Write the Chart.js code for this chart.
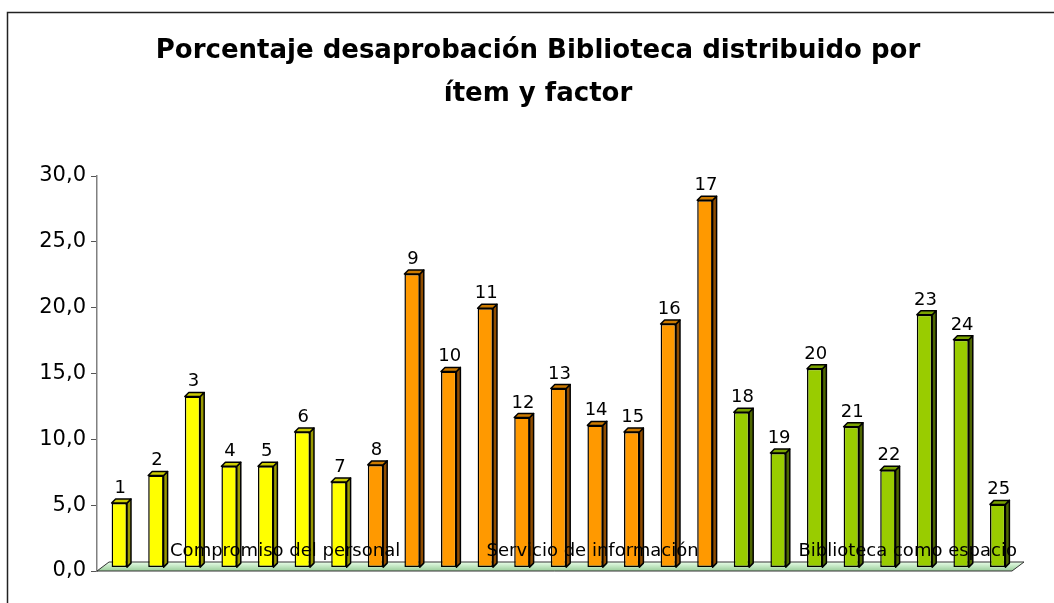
<!DOCTYPE html>
<html>
<head>
<meta charset="utf-8">
<title>Porcentaje desaprobación Biblioteca</title>
<script src="https://cdn.jsdelivr.net/npm/chart.js@4.4.1/dist/chart.umd.min.js"></script>
<style>
    html, body { margin: 0; padding: 0; background: #fff; }
    #wrap { width: 1054px; height: 603px; }
</style>
</head>
<body>
<div id="wrap"><canvas id="chart" width="1054" height="603"></canvas></div>
<script>
// Ítems de la encuesta (1..25) y % de desaprobación de cada uno
const ITEMS = ['1', '2', '3', '4', '5', '6', '7', '8', '9', '10', '11', '12', '13',
    '14', '15', '16', '17', '18', '19', '20', '21', '22', '23', '24', '25'];
const VALUES = [4.9, 7.0, 13.0, 7.7, 7.7, 10.3, 6.5, 7.8, 22.3, 14.9, 19.7, 11.4, 13.6,
    10.8, 10.3, 18.5, 27.9, 11.8, 8.7, 15.1, 10.7, 7.4, 19.2, 17.3, 4.8];
// factor al que pertenece cada ítem (índice en FACTORS)
const FACTOR_OF_ITEM = [0, 0, 0, 0, 0, 0, 0, 1, 1, 1, 1, 1, 1, 1, 1, 1, 1, 2, 2, 2, 2, 2, 2, 2, 2];
const FACTORS = ['Compromiso del personal', 'Servicio de información', 'Biblioteca como espacio'];
// posición (en categorías) donde va centrado el nombre del factor sobre el piso
const FACTOR_LABEL_AT = [4.64, 13.04, 21.65];
const TITLE_LINES = ['Porcentaje desaprobación Biblioteca distribuido por', 'ítem y factor'];
const Y_MIN = 0;
const Y_MAX = 30;
const Y_STEP = 5;

// colores por factor: cara frontal, lateral y superior
const FRONT = ['#FFFF00', '#FF9900', '#99CC00'];
const SIDE = ['#999900', '#8F4C00', '#4D6600'];
const TOP = ['#CCCC00', '#CC7A00', '#7AA300'];

const DEPTH = { dx: 4, dy: -4 };   // profundidad de cada columna
const SHIFT = { dx: 4, dy: -3.4 }; // columnas colocadas a mitad del piso
const FLOOR = { dx: 12, dy: -9 };

// marco del gráfico + título (el título de Excel no queda centrado en el canvas)
const frame = {
    id: 'frame',
    beforeDraw(chart) {
        const { ctx, width, height } = chart;
        ctx.save();
        ctx.fillStyle = '#fff';
        ctx.fillRect(0, 0, width, height);
        ctx.strokeStyle = '#222';
        ctx.lineWidth = 1.5;
        ctx.strokeRect(7.5, 12.5, width + 20, height + 20);
        ctx.restore();
    },
    afterDraw(chart) {
        const { ctx } = chart;
        ctx.save();
        ctx.fillStyle = '#000';
        ctx.font = 'bold 26px "DejaVu Sans"';
        ctx.textAlign = 'center';
        ctx.textBaseline = 'middle';
        TITLE_LINES.forEach((line, i) => ctx.fillText(line, 538, 51 + i * 43));
        ctx.restore();
    },
};

const columns3d = {
    id: 'columns3d',
    beforeDatasetsDraw(chart) {
        const { ctx, chartArea: a } = chart;
        ctx.save();
        const g = ctx.createLinearGradient(0, a.bottom + FLOOR.dy, 0, a.bottom);
        g.addColorStop(0, '#E8FFE8');
        g.addColorStop(1, '#99CC99');
        ctx.beginPath();
        ctx.moveTo(a.left, a.bottom);
        ctx.lineTo(a.right, a.bottom);
        ctx.lineTo(a.right + FLOOR.dx, a.bottom + FLOOR.dy);
        ctx.lineTo(a.left + FLOOR.dx, a.bottom + FLOOR.dy);
        ctx.closePath();
        ctx.fillStyle = g;
        ctx.fill();
        ctx.strokeStyle = '#333';
        ctx.lineWidth = 1;
        ctx.stroke();
        ctx.restore();

        ctx.save();
        ctx.translate(SHIFT.dx, SHIFT.dy);
    },
    afterDatasetsDraw(chart) {
        const { ctx } = chart;
        const meta = chart.getDatasetMeta(0);
        ctx.lineWidth = 1.5;
        ctx.strokeStyle = '#000';
        ctx.lineJoin = 'round';
        meta.data.forEach((bar, i) => {
            const { x, y, base, width } = bar.getProps(['x', 'y', 'base', 'width'], true);
            const l = x - width / 2;
            const r = x + width / 2;
            const f = FACTOR_OF_ITEM[i];

            // cara lateral
            ctx.beginPath();
            ctx.moveTo(r, base);
            ctx.lineTo(r, y);
            ctx.lineTo(r + DEPTH.dx, y + DEPTH.dy);
            ctx.lineTo(r + DEPTH.dx, base + DEPTH.dy);
            ctx.closePath();
            ctx.fillStyle = SIDE[f];
            ctx.fill();
            ctx.stroke();

            // cara superior
            ctx.beginPath();
            ctx.moveTo(l, y);
            ctx.lineTo(r, y);
            ctx.lineTo(r + DEPTH.dx, y + DEPTH.dy);
            ctx.lineTo(l + DEPTH.dx, y + DEPTH.dy);
            ctx.closePath();
            ctx.fillStyle = TOP[f];
            ctx.fill();
            ctx.stroke();

            // número del ítem
            ctx.fillStyle = '#000';
            ctx.font = '18px "DejaVu Sans"';
            ctx.textAlign = 'center';
            ctx.textBaseline = 'alphabetic';
            ctx.fillText(ITEMS[i], x + 1, y - 10);
        });
        ctx.restore();

        // nombres de los factores sobre el piso
        const xs = chart.scales.x;
        const a = chart.chartArea;
        ctx.save();
        ctx.fillStyle = '#000';
        ctx.font = '18px "DejaVu Sans"';
        ctx.textAlign = 'center';
        ctx.textBaseline = 'alphabetic';
        FACTORS.forEach((name, k) => {
            ctx.fillText(name, xs.getPixelForValue(FACTOR_LABEL_AT[k]), a.bottom - 15);
        });
        ctx.restore();
    },
};

new Chart(document.getElementById('chart'), {
    type: 'bar',
    data: {
        labels: ITEMS,
        datasets: [{
            data: VALUES,
            backgroundColor: FACTOR_OF_ITEM.map((f) => FRONT[f]),
            borderColor: '#000',
            borderWidth: 1.5,
            borderSkipped: false,
            categoryPercentage: 1,
            barPercentage: 0.42,
        }],
    },
    options: {
        responsive: false,
        animation: false,
        events: [],
        layout: { padding: { left: 0, right: 42, top: 176, bottom: 32 } },
        plugins: {
            legend: { display: false },
            tooltip: { enabled: false },
            title: { display: false },
        },
        scales: {
            x: {
                display: false,
                offset: true,
            },
            y: {
                min: Y_MIN,
                max: Y_MAX,
                afterFit(scale) { scale.width = 97; },
                ticks: {
                    stepSize: Y_STEP,
                    color: '#000',
                    padding: 5,
                    font: { family: 'DejaVu Sans', size: 21 },
                    callback: (v) => v.toFixed(1).replace('.', ','),
                },
                grid: { drawOnChartArea: false, tickLength: 6, color: '#555', lineWidth: 1 },
                border: { color: '#808080', width: 1.5 },
            },
        },
    },
    plugins: [frame, columns3d],
});
</script>
</body>
</html>
